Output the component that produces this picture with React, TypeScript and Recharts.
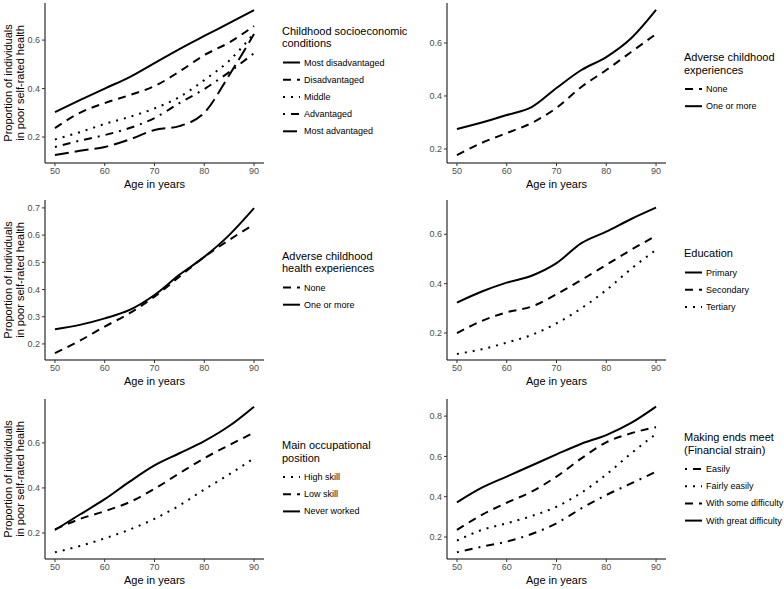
import { LineChart, Line, XAxis, YAxis } from 'recharts'

const FONT = '"Liberation Sans", Arial, Helvetica, sans-serif'

const AGES = [50, 55, 60, 65, 70, 75, 80, 85, 90]
const AGE_TICKS = [50, 60, 70, 80, 90]

// Childhood socioeconomic conditions
const SES_MOST_DISADV = [0.303, 0.352, 0.4, 0.447, 0.505, 0.563, 0.617, 0.67, 0.724]
const SES_DISADV = [0.237, 0.3, 0.34, 0.373, 0.41, 0.47, 0.538, 0.59, 0.658]
const SES_MIDDLE = [0.19, 0.22, 0.254, 0.283, 0.318, 0.365, 0.435, 0.515, 0.628]
const SES_ADV = [0.159, 0.185, 0.208, 0.237, 0.278, 0.34, 0.398, 0.468, 0.546]
const SES_MOST_ADV = [0.126, 0.143, 0.159, 0.19, 0.229, 0.245, 0.3, 0.455, 0.625]

// Adverse childhood experiences
const ACE_NONE = [0.177, 0.223, 0.26, 0.298, 0.355, 0.434, 0.498, 0.566, 0.634]
const ACE_ONE = [0.275, 0.3, 0.328, 0.358, 0.43, 0.498, 0.547, 0.618, 0.725]

// Adverse childhood health experiences
const ACHE_NONE = [0.166, 0.212, 0.264, 0.313, 0.374, 0.447, 0.52, 0.582, 0.64]
const ACHE_ONE = [0.254, 0.27, 0.294, 0.325, 0.38, 0.454, 0.52, 0.6, 0.699]

// Education
const EDU_PRIMARY = [0.323, 0.368, 0.404, 0.432, 0.483, 0.564, 0.611, 0.662, 0.708]
const EDU_SECONDARY = [0.199, 0.249, 0.284, 0.307, 0.357, 0.415, 0.476, 0.537, 0.594]
const EDU_TERTIARY = [0.115, 0.134, 0.161, 0.192, 0.239, 0.3, 0.374, 0.46, 0.537]

// Main occupational position
const OCC_HIGH = [0.114, 0.142, 0.176, 0.215, 0.263, 0.322, 0.393, 0.46, 0.532]
const OCC_LOW = [0.216, 0.262, 0.297, 0.337, 0.396, 0.465, 0.532, 0.59, 0.646]
const OCC_NEVER = [0.213, 0.282, 0.35, 0.428, 0.5, 0.554, 0.608, 0.675, 0.761]

// Making ends meet
const MEM_EASILY = [0.124, 0.152, 0.177, 0.215, 0.268, 0.342, 0.408, 0.466, 0.524]
const MEM_FAIRLY = [0.182, 0.235, 0.268, 0.304, 0.35, 0.42, 0.51, 0.615, 0.712]
const MEM_SOME = [0.235, 0.31, 0.37, 0.425, 0.5, 0.59, 0.67, 0.715, 0.745]
const MEM_GREAT = [0.372, 0.445, 0.5, 0.555, 0.61, 0.663, 0.706, 0.766, 0.847]

const DASH: Record<string, string | undefined> = {
  solid: undefined,
  dashed: '8 6',
  dotted: '2 6',
  dotdash: '2 6 8 6',
  longdash: '14 6',
}

type Series = { name: string; values: number[]; lty: string }

type PanelProps = {
  left: number
  top: number
  yTitle?: boolean
  domain: [number, number]
  yTicks: number[]
  title: string[]
  legendTop: number
  series: Series[]
}

const CHART_W = 272
const CHART_H = 197

function yTitleLabel() {
  return (
    <g fontSize={11} fill="#000" textAnchor="middle">
      <text x={12} y={83} transform="rotate(-90 12 83)">
        Proportion of individuals
      </text>
      <text x={23.5} y={83} transform="rotate(-90 23.5 83)">
        in poor self-rated health
      </text>
    </g>
  )
}

function PanelLegend({ title, series, top }: { title: string[]; series: Series[]; top: number }) {
  const firstItem = top + (title.length - 1) * 12.5 + 19.5
  return (
    <svg
      width={112}
      height={CHART_H}
      style={{ position: 'absolute', left: CHART_W, top: 0, overflow: 'visible' }}
    >
      {title.map((t, i) => (
        <text key={t} x={10} y={top + i * 12.5} fontSize={11} fill="#000" dominantBaseline="central">
          {t}
        </text>
      ))}
      {series.map((s, i) => {
        const y = firstItem + i * 17.2
        return (
          <g key={s.name}>
            <line x1={11} x2={28} y1={y} y2={y} stroke="#000" strokeWidth={2} strokeDasharray={DASH[s.lty]} />
            <text x={32} y={y} fontSize={9} fill="#000" dominantBaseline="central">
              {s.name}
            </text>
          </g>
        )
      })}
    </svg>
  )
}

function Panel({ left, top, yTitle, domain, yTicks, title, legendTop, series }: PanelProps) {
  const rows = AGES.map((age, i) => {
    const row: Record<string, number> = { age }
    series.forEach((s, j) => {
      row['s' + j] = s.values[i]
    })
    return row
  })

  return (
    <div style={{ position: 'absolute', left, top, width: CHART_W + 112, height: CHART_H }}>
      <LineChart width={CHART_W} height={CHART_H} data={rows} margin={{ top: 3, right: 8, bottom: 4, left: 0 }}>
        <XAxis
          dataKey="age"
          type="number"
          domain={[48, 92]}
          ticks={AGE_TICKS}
          allowDataOverflow
          height={30}
          tickSize={3}
          tickMargin={2}
          tick={{ fontSize: 9, fill: '#4d4d4d' }}
          axisLine={{ stroke: '#000', strokeWidth: 1 }}
          tickLine={{ stroke: '#333' }}
          label={{ value: 'Age in years', position: 'insideBottom', offset: 5, fontSize: 11, fill: '#000' }}
        />
        <YAxis
          type="number"
          domain={domain}
          ticks={yTicks}
          allowDataOverflow
          width={45}
          tickSize={3}
          tickMargin={2}
          tickFormatter={(v: number) => v.toFixed(1)}
          tick={{ fontSize: 9, fill: '#4d4d4d' }}
          axisLine={{ stroke: '#000', strokeWidth: 1 }}
          tickLine={{ stroke: '#333' }}
          label={yTitle ? yTitleLabel : undefined}
        />
        {series.map((s, j) => (
          <Line
            key={s.name}
            dataKey={'s' + j}
            name={s.name}
            type="monotone"
            stroke="#000"
            strokeWidth={2}
            strokeDasharray={DASH[s.lty]}
            dot={false}
            activeDot={false}
            isAnimationActive={false}
          />
        ))}
      </LineChart>
      <PanelLegend title={title} series={series} top={legendTop} />
    </div>
  )
}

export default function App() {
  return (
    <div
      style={{
        position: 'absolute',
        left: 0,
        top: 0,
        width: 784,
        height: 589,
        background: '#fff',
        fontFamily: FONT,
        overflow: 'hidden',
      }}
    >
      <Panel
        left={0}
        top={0}
        yTitle
        domain={[0.0928, 0.753]}
        yTicks={[0.2, 0.4, 0.6]}
        title={['Childhood socioeconomic', 'conditions']}
        legendTop={30.5}
        series={[
          { name: 'Most disadvantaged', values: SES_MOST_DISADV, lty: 'solid' },
          { name: 'Disadvantaged', values: SES_DISADV, lty: 'dashed' },
          { name: 'Middle', values: SES_MIDDLE, lty: 'dotted' },
          { name: 'Advantaged', values: SES_ADV, lty: 'dotdash' },
          { name: 'Most advantaged', values: SES_MOST_ADV, lty: 'longdash' },
        ]}
      />
      <Panel
        left={402}
        top={0}
        domain={[0.147, 0.751]}
        yTicks={[0.2, 0.4, 0.6]}
        title={['Adverse childhood', 'experiences']}
        legendTop={57}
        series={[
          { name: 'None', values: ACE_NONE, lty: 'dashed' },
          { name: 'One or more', values: ACE_ONE, lty: 'solid' },
        ]}
      />
      <Panel
        left={0}
        top={197}
        yTitle
        domain={[0.141, 0.729]}
        yTicks={[0.2, 0.3, 0.4, 0.5, 0.6, 0.7]}
        title={['Adverse childhood', 'health experiences']}
        legendTop={58.5}
        series={[
          { name: 'None', values: ACHE_NONE, lty: 'dashed' },
          { name: 'One or more', values: ACHE_ONE, lty: 'solid' },
        ]}
      />
      <Panel
        left={402}
        top={197}
        domain={[0.0905, 0.739]}
        yTicks={[0.2, 0.4, 0.6]}
        title={['Education']}
        legendTop={56}
        series={[
          { name: 'Primary', values: EDU_PRIMARY, lty: 'solid' },
          { name: 'Secondary', values: EDU_SECONDARY, lty: 'dashed' },
          { name: 'Tertiary', values: EDU_TERTIARY, lty: 'dotted' },
        ]}
      />
      <Panel
        left={0}
        top={396}
        yTitle
        domain={[0.0844, 0.795]}
        yTicks={[0.2, 0.4, 0.6]}
        title={['Main occupational', 'position']}
        legendTop={49}
        series={[
          { name: 'High skill', values: OCC_HIGH, lty: 'dotted' },
          { name: 'Low skill', values: OCC_LOW, lty: 'dashed' },
          { name: 'Never worked', values: OCC_NEVER, lty: 'solid' },
        ]}
      />
      <Panel
        left={402}
        top={396}
        domain={[0.0908, 0.885]}
        yTicks={[0.2, 0.4, 0.6, 0.8]}
        title={['Making ends meet', '(Financial strain)']}
        legendTop={41}
        series={[
          { name: 'Easily', values: MEM_EASILY, lty: 'dotdash' },
          { name: 'Fairly easily', values: MEM_FAIRLY, lty: 'dotted' },
          { name: 'With some difficulty', values: MEM_SOME, lty: 'dashed' },
          { name: 'With great difficulty', values: MEM_GREAT, lty: 'solid' },
        ]}
      />
    </div>
  )
}
